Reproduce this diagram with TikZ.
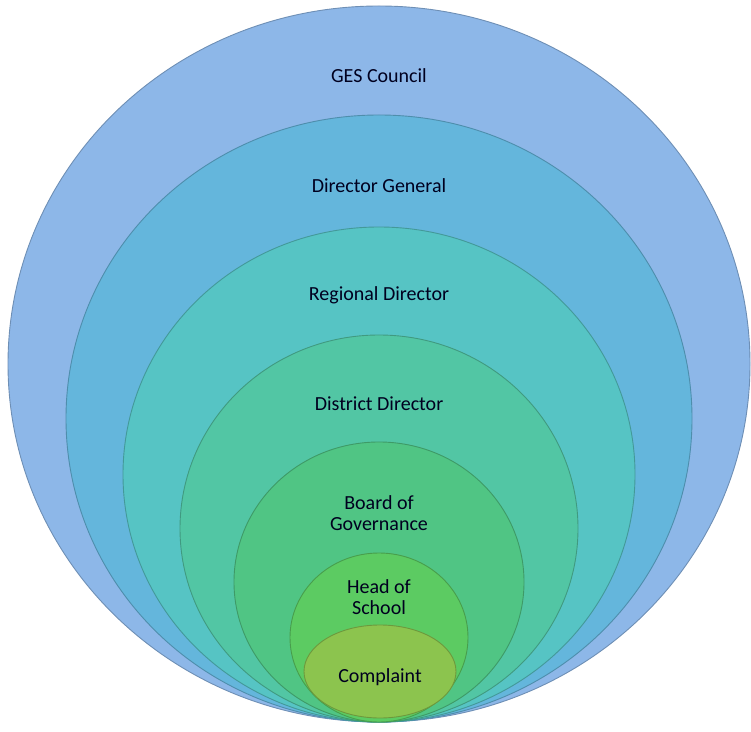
\documentclass[tikz,border=0pt]{standalone}
\usepackage{fontspec}
\setmainfont{Carlito}
\usetikzlibrary{shapes, positioning, calc}

\definecolor{gescol}{RGB}{141,183,232}
\definecolor{dgcol}{RGB}{100,182,220}
\definecolor{regcol}{RGB}{86,196,196}
\definecolor{distcol}{RGB}{82,198,164}
\definecolor{boardcol}{RGB}{80,197,132}
\definecolor{headcol}{RGB}{92,203,98}
\definecolor{compcol}{RGB}{140,196,78}

\begin{document}
\begin{tikzpicture}
  [
  x = 1pt, y = 1pt,
  % ring
  ring/.style = {ellipse,
    draw = #1!78!black, fill = #1,
    line width = 0.9pt,
    inner sep = 0pt, outer sep = 0pt},
  % label
  lbl/.style = {align = center,
    text = black!88!blue,
    font = \fontsize{20}{21.5}\selectfont,
    inner sep = 0pt},
  ]

  \useasboundingbox (0,0) rectangle (751,731);

  % rings
  \node [ring=gescol, minimum width=742pt, minimum height=716pt] (ges) at (379,367) {};
  \node [ring=dgcol, minimum width=626pt, minimum height=607pt] (dg) at (379,312.5) {};
  \node [ring=regcol, minimum width=512pt, minimum height=495pt] (reg) at (379,256.5) {};
  \node [ring=distcol, minimum width=398pt, minimum height=387pt] (dist) at (379,202.5) {};
  \node [ring=boardcol, minimum width=290pt, minimum height=280pt] (board) at (379,149) {};
  \node [ring=headcol, minimum width=178pt, minimum height=169pt] (head) at (379,93.5) {};
  \node [ring=compcol, minimum width=152pt, minimum height=93pt] (comp) at (380,59.5) {};

  % labels
  \node [lbl, below=62pt of ges.north] (gesl) {GES Council};
  \node [lbl, below=63pt of dg.north] (dgl) {Director General};
  \node [lbl, below=59pt of reg.north] (regl) {Regional Director};
  \node [lbl, below=62pt of dist.north] (distl) {District Director};
  \node [lbl, below=53pt of board.north] (boardl) {Board of\\Governance};
  \node [lbl, below=26pt of head.north] (headl) {Head of\\School};
  \node [lbl, below=43pt of comp.north] (compl) {Complaint};

\end{tikzpicture}
\end{document}
